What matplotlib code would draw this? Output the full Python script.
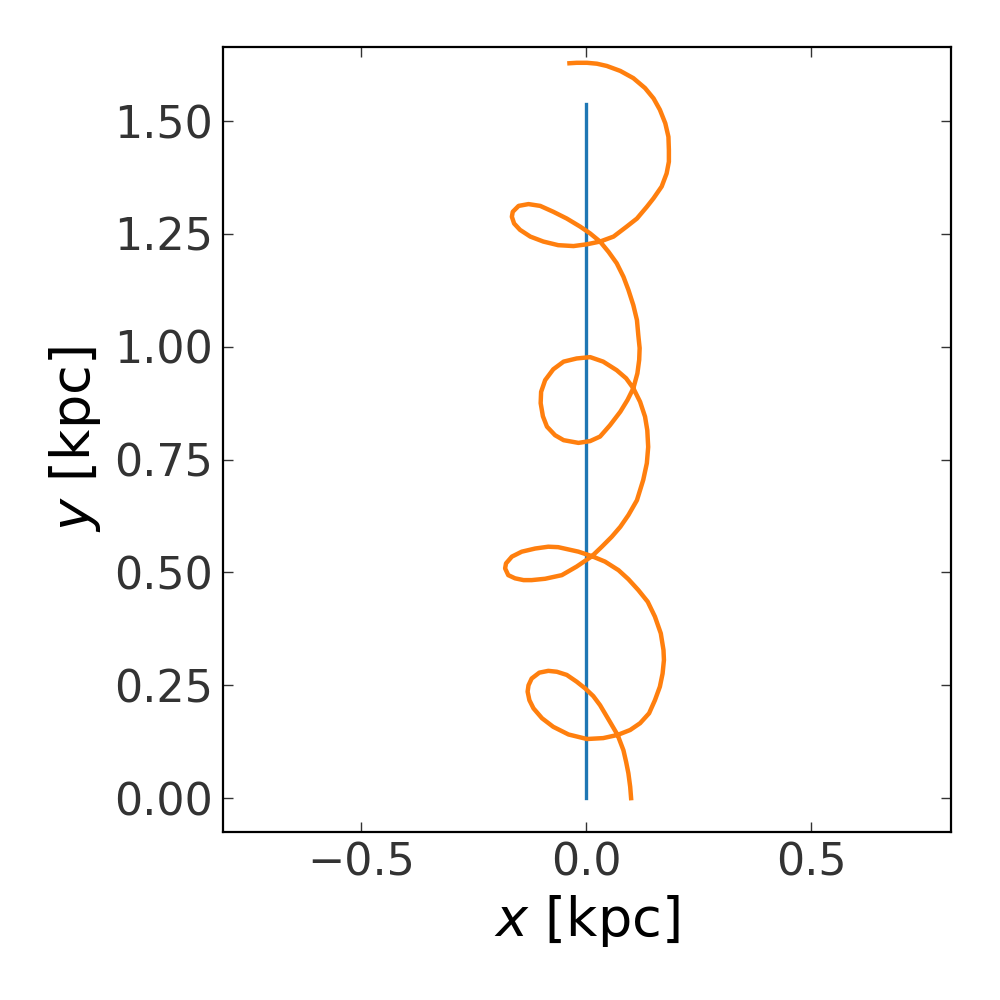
import numpy as np
import matplotlib
matplotlib.use('Agg')
import matplotlib.pyplot as plt

# straight-line orbit (blue)
x_line = [0.0, 0.0]
y_line = [0.0, 1.538]

# looping orbit (orange)
x_orbit = [0.100, 0.098, 0.094, 0.089, 0.083, 0.070, 0.053, 0.031, 0.016, -0.002,
           -0.021, -0.043, -0.065, -0.084, -0.104, -0.121, -0.128, -0.130, -0.126, -0.117,
           -0.098, -0.073, -0.039, 0.002, 0.038, 0.070, 0.098, 0.120, 0.140, 0.153,
           0.164, 0.170, 0.173, 0.172, 0.166, 0.153, 0.137, 0.116, 0.094, 0.072,
           0.042, 0.013, -0.017, -0.039, -0.062, -0.084, -0.113, -0.143, -0.165, -0.178,
           -0.180, -0.173, -0.158, -0.139, -0.121, -0.091, -0.054, -0.021, 0.013, 0.035,
           0.057, 0.076, 0.094, 0.113, 0.127, 0.135, 0.138, 0.136, 0.131, 0.120,
           0.105, 0.089, 0.068, 0.038, 0.009, -0.021, -0.050, -0.073, -0.091, -0.100,
           -0.101, -0.096, -0.087, -0.069, -0.050, -0.017, 0.009, 0.031, 0.053, 0.076,
           0.092, 0.105, 0.114, 0.118, 0.119, 0.116, 0.113, 0.105, 0.094, 0.083,
           0.068, 0.050, 0.031, 0.009, -0.013, -0.043, -0.073, -0.102, -0.128, -0.150,
           -0.163, -0.165, -0.160, -0.147, -0.124, -0.095, -0.062, -0.028, 0.002, 0.031,
           0.061, 0.090, 0.113, 0.135, 0.150, 0.168, 0.179, 0.184, 0.184, 0.183,
           0.176, 0.164, 0.150, 0.131, 0.105, 0.076, 0.046, 0.024, 0.002, -0.021,
           -0.037]
y_orbit = [0.000, 0.025, 0.055, 0.080, 0.106, 0.140, 0.169, 0.206, 0.226, 0.243,
           0.258, 0.273, 0.280, 0.282, 0.278, 0.265, 0.250, 0.236, 0.217, 0.199,
           0.177, 0.158, 0.141, 0.131, 0.133, 0.140, 0.151, 0.166, 0.188, 0.217,
           0.247, 0.276, 0.306, 0.328, 0.365, 0.402, 0.435, 0.461, 0.485, 0.505,
           0.524, 0.536, 0.546, 0.551, 0.556, 0.557, 0.553, 0.546, 0.535, 0.520,
           0.509, 0.494, 0.487, 0.483, 0.483, 0.486, 0.494, 0.513, 0.536, 0.557,
           0.579, 0.601, 0.627, 0.660, 0.705, 0.742, 0.778, 0.815, 0.845, 0.878,
           0.908, 0.930, 0.948, 0.967, 0.977, 0.974, 0.967, 0.950, 0.926, 0.900,
           0.875, 0.846, 0.823, 0.804, 0.793, 0.787, 0.791, 0.801, 0.826, 0.856,
           0.882, 0.908, 0.941, 0.971, 0.997, 1.026, 1.059, 1.092, 1.126, 1.155,
           1.185, 1.210, 1.233, 1.251, 1.266, 1.284, 1.299, 1.312, 1.316, 1.312,
           1.299, 1.288, 1.273, 1.259, 1.244, 1.233, 1.225, 1.223, 1.227, 1.233,
           1.244, 1.266, 1.284, 1.310, 1.329, 1.355, 1.384, 1.410, 1.436, 1.465,
           1.495, 1.525, 1.550, 1.573, 1.595, 1.611, 1.622, 1.627, 1.629, 1.629,
           1.628]

x_ticks = [-0.5, 0.0, 0.5]
y_ticks = [0.00, 0.25, 0.50, 0.75, 1.00, 1.25, 1.50]

fig = plt.figure(figsize=(5, 5), dpi=200)
ax = fig.add_axes([0.223, 0.168, 0.728, 0.785])

ax.plot(x_line, y_line, color='#1f77b4', lw=1.2)
ax.plot(x_orbit, y_orbit, color='#ff7f0e', lw=1.6)

ax.set_xlim(-0.807, 0.811)
ax.set_ylim(-0.075, 1.664)
ax.set_xticks(x_ticks)
ax.set_yticks(y_ticks)
ax.set_xticklabels(['\u22120.5', '0.0', '0.5'])
ax.set_yticklabels([f'{v:.2f}' for v in y_ticks])

ax.tick_params(direction='in', top=True, right=True, labelsize=16,
               labelcolor='#333333', color='#333333', length=3.5, width=0.5, pad=3.5)
for s in ax.spines.values():
    s.set_linewidth(0.8)

ax.set_xlabel(r'$x$ [kpc]', fontsize=19.5, labelpad=3)
ax.set_ylabel(r'$y$ [kpc]', fontsize=19.5, labelpad=4)

plt.savefig('out.png', dpi=200)
